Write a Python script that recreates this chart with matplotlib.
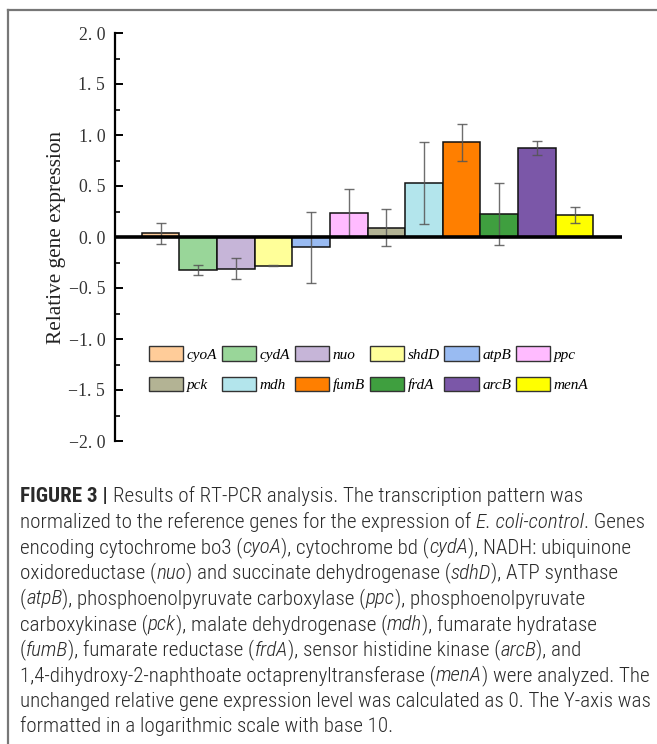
import matplotlib
matplotlib.use("Agg")
import matplotlib.pyplot as plt
from matplotlib import font_manager
from matplotlib.lines import Line2D
from matplotlib.patches import Patch
import numpy as np

# data
genes = ["cyoA", "cydA", "nuo", "shdD", "atpB", "ppc",
         "pck", "mdh", "fumB", "frdA", "arcB", "menA"]
expr = [0.035, -0.325, -0.31, -0.28, -0.10, 0.232,
        0.09, 0.53, 0.928, 0.225, 0.87, 0.215]
err = [0.10, 0.05, 0.105, 0.005, 0.35, 0.235,
       0.18, 0.40, 0.18, 0.30, 0.07, 0.078]
colors = ["#FFCC99", "#99D699", "#C6B5D8", "#FFFF99", "#99BBF2", "#FFBBFF",
          "#B3B394", "#B3E5EC", "#FF7F00", "#3F9F3F", "#7B57A8", "#FFFF00"]

W, H = 657, 744
fig = plt.figure(figsize=(W / 100, H / 100), dpi=100)

def fx(px):
    return px / W

def fy(py):
    return 1 - py / H

# axes: left spine at x=115, y from 33 (2.0) to 441 (-2.0)
ax = fig.add_axes([fx(115), fy(441), fx(622) - fx(115), fy(33) - fy(441)])
x = np.arange(len(genes))
ax.bar(x, expr, width=1.0, color=colors, edgecolor="#111111", linewidth=1.1, zorder=2)
ax.errorbar(x, expr, yerr=err, fmt="none", ecolor="#555555", elinewidth=1.0,
            capsize=3.5, capthick=1.0, alpha=0.85, zorder=3)
ax.axhline(0, color="black", lw=2.6, zorder=4)

ax.set_xlim(-1.21, 12.26)
ax.set_ylim(-2, 2)
for s in ["top", "right", "bottom"]:
    ax.spines[s].set_visible(False)
ax.spines["left"].set_linewidth(1.6)
ax.set_xticks([])
ax.set_yticks(np.arange(-2, 2.01, 0.5))
ax.set_yticks(np.arange(-2, 2.01, 0.25), minor=True)
ax.tick_params(axis="y", which="major", direction="in", length=5.5, width=1.4,
               pad=7, labelsize=12.8, labelcolor="#333333")
ax.tick_params(axis="y", which="minor", direction="in", length=3.5, width=1.2)
ax.set_yticklabels([("%.1f" % v).replace(".", ". ").replace("-", "\u2212")
                    for v in np.arange(-2, 2.01, 0.5)], family="Liberation Serif")

fig.text(fx(56), fy(237), "Relative gene expression", rotation=90, ha="center",
         va="center", family="Liberation Serif", fontsize=15.3, color="#222222")

# legend is filled column by column, so interleave the two rows
order = [0, 6, 1, 7, 2, 8, 3, 9, 4, 10, 5, 11]
handles = [Patch(facecolor=colors[i], edgecolor="#333333", linewidth=1.0) for i in order]
leg = fig.legend(handles, [genes[i] for i in order], ncol=6, loc="upper left",
                 bbox_to_anchor=(fx(149), fy(346)), frameon=False,
                 borderpad=0, borderaxespad=0, handlelength=2.25, handleheight=1.1,
                 handletextpad=0.23, columnspacing=0.3, labelspacing=1.0,
                 prop={"family": "Liberation Serif", "style": "italic", "size": 11})

# figure frame: top and left lines only
fig.add_artist(Line2D([fx(8), 1], [fy(10), fy(10)], color="#777777", lw=1.6))
fig.add_artist(Line2D([fx(8), fx(8)], [fy(10), 0], color="#777777", lw=1.6))

# caption
names = {f.name for f in font_manager.fontManager.ttflist}
cap_font = "Roboto"
for cand in ["Liberation Sans Narrow", "Roboto Condensed", "Open Sans Condensed"]:
    if cand in names:
        cap_font = cand
        break

N, I, B = "normal", "italic", "bold"
caption = [
    [("FIGURE 3 | ", B), ("Results of RT-PCR analysis. The transcription pattern was", N)],
    [("normalized to the reference genes for the expression of ", N), ("E. coli-control", I), (". Genes", N)],
    [("encoding cytochrome bo3 (", N), ("cyoA", I), ("), cytochrome bd (", N), ("cydA", I), ("), NADH: ubiquinone", N)],
    [("oxidoreductase (", N), ("nuo", I), (") and succinate dehydrogenase (", N), ("sdhD", I), ("), ATP synthase", N)],
    [("(", N), ("atpB", I), ("), phosphoenolpyruvate carboxylase (", N), ("ppc", I), ("), phosphoenolpyruvate", N)],
    [("carboxykinase (", N), ("pck", I), ("), malate dehydrogenase (", N), ("mdh", I), ("), fumarate hydratase", N)],
    [("(", N), ("fumB", I), ("), fumarate reductase (", N), ("frdA", I), ("), sensor histidine kinase (", N), ("arcB", I), ("), and", N)],
    [("1,4-dihydroxy-2-naphthoate octaprenyltransferase (", N), ("menA", I), (") were analyzed. The", N)],
    [("unchanged relative gene expression level was calculated as 0. The Y-axis was", N)],
    [("formatted in a logarithmic scale with base 10.", N)],
]

renderer = fig.canvas.get_renderer()

def seg_kw(style, size):
    kw = dict(family=cap_font, fontsize=size, color="#2A2A2A", weight="light")
    if style == I:
        kw["style"] = "italic"
    if style == B:
        kw["weight"] = "bold"
    return kw

def text_w(s, style, size):
    t = fig.text(0, 0, s, **seg_kw(style, size))
    w = t.get_window_extent(renderer).width
    t.remove()
    return w

def seg_w(s, style, size):
    w = text_w(s.strip(), style, size) if s.strip() else 0
    sp = text_w("a a", style, size) - text_w("aa", style, size)
    return w + sp * (len(s) - len(s.rstrip(" "))) + sp * (len(s) - len(s.lstrip(" ")))

# pick a size so line 2 spans 20..643 px like the reference
base = 12
w2 = sum(seg_w(s, st, base) for s, st in caption[1])
size = base * 623 / w2

y0, dy = 502, 25.6
for i, line in enumerate(caption):
    xp = 20.0
    for s, st in line:
        fig.text(fx(xp), fy(y0 + i * dy), s.strip(), ha="left", va="baseline",
                 **seg_kw(st, size))
        xp += seg_w(s, st, size)

fig.savefig("out.png", dpi=100)
